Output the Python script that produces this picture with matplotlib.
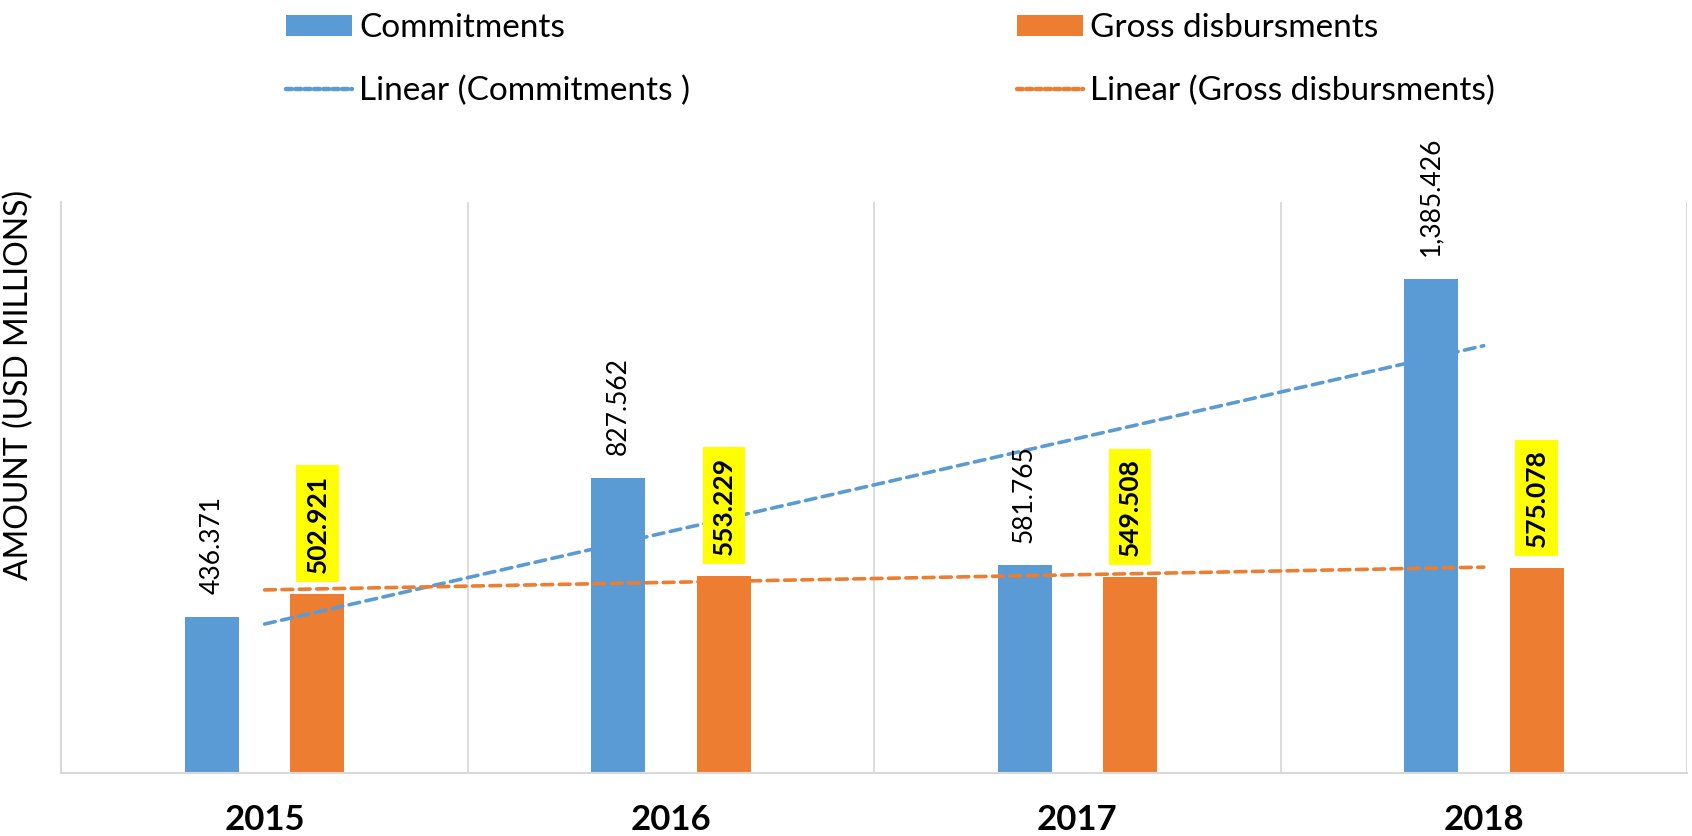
#!/usr/bin/env python3
"""
Plot yearly commitments vs gross disbursements (USD millions) with linear trendlines.
"""

import numpy as np
import matplotlib
matplotlib.use('Agg')
import matplotlib.pyplot as plt
from matplotlib.patches import Patch
from matplotlib.lines import Line2D

YEARS = ['2015', '2016', '2017', '2018']
COMMITMENTS = [436.371, 827.562, 581.765, 1385.426]
GROSS_DISBURSEMENTS = [502.921, 553.229, 549.508, 575.078]
COMMIT_LABELS = ['436.371', '827.562', '581.765', '1,385.426']
GROSS_LABELS = ['502.921', '553.229', '549.508', '575.078']

BLUE = '#5B9BD5'
ORANGE = '#ED7D31'
GRID = '#D9D9D9'

plt.rcParams['font.family'] = ['Lato', 'DejaVu Sans']


def add_trendline(ax, x, y, color):
    """Least-squares linear trend across the category positions."""
    slope, intercept = np.polyfit(x, y, 1)
    ax.plot(x, slope * x + intercept, color=color, linewidth=2.6,
            dashes=(3.0, 1.8), dash_capstyle='round', zorder=3)


def main():
    fig = plt.figure(figsize=(16.92, 8.36), dpi=100)
    ax = fig.add_axes([0.0363, 0.0754, 0.9607, 0.6826])

    x = np.arange(len(YEARS))
    width = 0.133
    offset = 0.13

    blue_bars = ax.bar(x - offset, COMMITMENTS, width, color=BLUE, zorder=2)
    orange_bars = ax.bar(x + offset, GROSS_DISBURSEMENTS, width, color=ORANGE, zorder=2)

    add_trendline(ax, x.astype(float), np.array(COMMITMENTS), BLUE)
    add_trendline(ax, x.astype(float), np.array(GROSS_DISBURSEMENTS), ORANGE)

    # Data labels: commitments plain, disbursements bold on yellow
    for bar, text in zip(blue_bars, COMMIT_LABELS):
        ax.annotate(text, (bar.get_x() + bar.get_width() / 2, bar.get_height()),
                    xytext=(0, 16.5), textcoords='offset points',
                    rotation=90, ha='center', va='bottom', fontsize=19, zorder=5)
    for bar, text in zip(orange_bars, GROSS_LABELS):
        ax.annotate(text, (bar.get_x() + bar.get_width() / 2, bar.get_height()),
                    xytext=(0, 15), textcoords='offset points',
                    rotation=90, ha='center', va='bottom', fontsize=19,
                    fontweight='bold', zorder=5,
                    bbox=dict(boxstyle='square,pad=0.35', facecolor='#FFFF00',
                              edgecolor='none'))

    ax.set_xlim(-0.5, len(YEARS) - 0.5)
    ax.set_ylim(0, 1600)
    ax.set_yticks([])
    ax.set_xticks(x)
    ax.set_xticklabels(YEARS, fontsize=25, fontweight='bold')
    ax.tick_params(axis='x', length=0, pad=22)

    for boundary in np.arange(0.5, len(YEARS), 1.0):
        ax.axvline(boundary, color=GRID, linewidth=1.3, zorder=1)

    for side in ['top', 'right']:
        ax.spines[side].set_visible(False)
    for side in ['left', 'bottom']:
        ax.spines[side].set_color(GRID)
        ax.spines[side].set_linewidth(1.5)

    ax.set_ylabel('AMOUNT (USD MILLIONS)', fontsize=23)
    ax.yaxis.set_label_coords(-0.017, 0.68)

    handles = [
        Patch(facecolor=BLUE, edgecolor='none'),
        Line2D([], [], color=BLUE, linewidth=3.2, dashes=(1.3, 0.8), dash_capstyle='round'),
        Patch(facecolor=ORANGE, edgecolor='none'),
        Line2D([], [], color=ORANGE, linewidth=3.2, dashes=(1.3, 0.8), dash_capstyle='round'),
    ]
    labels = ['Commitments', 'Linear (Commitments )',
              'Gross disbursments', 'Linear (Gross disbursments)']
    fig.legend(handles, labels, loc='upper left', bbox_to_anchor=(0.155, 1.012),
               ncol=2, frameon=False, fontsize=24, handlelength=2.0,
               handleheight=0.6, handletextpad=0.2, labelspacing=0.97,
               columnspacing=9.8, borderpad=0.2)

    fig.savefig('out.png', dpi=100)


if __name__ == '__main__':
    main()
